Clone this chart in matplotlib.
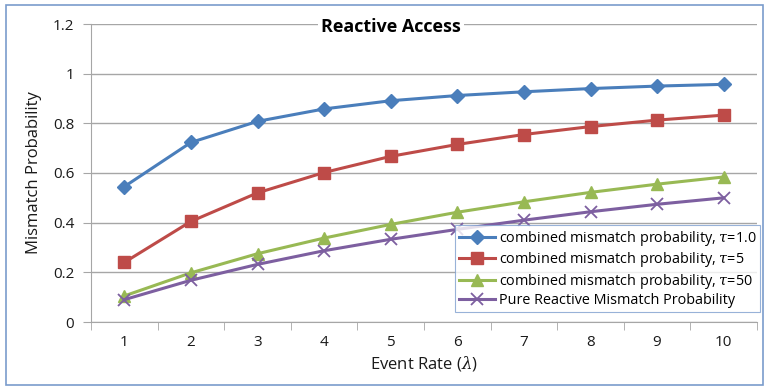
import numpy as np
import matplotlib
matplotlib.use("Agg")
import matplotlib.pyplot as plt
from matplotlib.patches import Rectangle

# data
event_rate = [1, 2, 3, 4, 5, 6, 7, 8, 9, 10]
tau_1 = [0.545, 0.723, 0.808, 0.858, 0.891, 0.912, 0.927, 0.940, 0.950, 0.957]
tau_5 = [0.240, 0.405, 0.520, 0.602, 0.667, 0.715, 0.755, 0.787, 0.813, 0.833]
tau_50 = [0.105, 0.198, 0.275, 0.338, 0.393, 0.442, 0.484, 0.522, 0.555, 0.584]
pure_reactive = [0.090, 0.168, 0.232, 0.287, 0.333, 0.373, 0.410, 0.444, 0.474, 0.500]
labels = [
    r"combined mismatch probability, $\tau$=1.0",
    r"combined mismatch probability, $\tau$=5",
    r"combined mismatch probability, $\tau$=50",
    "Pure Reactive Mismatch Probability",
]

BLUE = "#4a7ebb"
RED = "#be4b48"
GREEN = "#98b954"
PURPLE = "#7d5fa0"
GRID = "#a6a6a6"
TXT = "#1a1a1a"

plt.rcParams["font.family"] = ["Open Sans", "DejaVu Sans"]
plt.rcParams["mathtext.fontset"] = "dejavuserif"

fig = plt.figure(figsize=(7.68, 3.87), dpi=100)
ax = fig.add_axes([91 / 768, 1 - 322 / 387, 666 / 768, 298 / 387])

x = np.array(event_rate)
ax.plot(x, tau_1, color=BLUE, lw=2.2, marker="D", ms=7, label=labels[0])
ax.plot(x, tau_5, color=RED, lw=2.2, marker="s", ms=8, label=labels[1])
ax.plot(x, tau_50, color=GREEN, lw=2.2, marker="^", ms=9, label=labels[2])
ax.plot(x, pure_reactive, color=PURPLE, lw=2.2, marker="x", ms=9, mew=1.3, label=labels[3])

ax.set_xlim(0.5, 10.5)
ax.set_ylim(0, 1.2)
ax.set_yticks(np.arange(0, 1.21, 0.2))
ax.set_yticklabels(["0", "0.2", "0.4", "0.6", "0.8", "1", "1.2"])
ax.set_xticks(x)
ax.set_xticks(np.arange(0.5, 10.6, 1), minor=True)
ax.tick_params(axis="x", which="major", length=0, pad=9, labelsize=11, colors=TXT)
ax.tick_params(axis="x", which="minor", length=6, color=GRID, direction="out")
ax.tick_params(axis="y", length=6, color=GRID, labelsize=11, colors=TXT, pad=6)
ax.yaxis.grid(True, color=GRID, lw=1)
ax.set_axisbelow(True)
for s in ["top", "right"]:
    ax.spines[s].set_visible(False)
for s in ["left", "bottom"]:
    ax.spines[s].set_color(GRID)

ax.set_xlabel(r"Event Rate ($\lambda$)", fontsize=12, color=TXT, labelpad=3)
ax.set_ylabel("Mismatch Probability", fontsize=12, color=TXT, labelpad=8)

fig.text(391 / 768, 1 - 27 / 387, "Reactive Access", ha="center", va="center",
         fontsize=13, fontweight="bold", color="black",
         bbox=dict(facecolor="white", edgecolor="none", pad=2))

leg = fig.legend(loc="upper left", bbox_to_anchor=(455 / 768, 1 - 225 / 387),
                 fontsize=10.4, frameon=True, fancybox=False, handlelength=2.5,
                 handletextpad=0.3, borderpad=0.25, labelspacing=0.18,
                 borderaxespad=0)
leg.get_frame().set_edgecolor("#7f9fcf")
leg.get_frame().set_linewidth(0.8)

fig.patches.append(Rectangle((6 / 768, 2 / 387), 757 / 768, 380 / 387,
                             transform=fig.transFigure, fill=False,
                             edgecolor="#7a9ccc", lw=1.2))

fig.savefig("out.png", dpi=100)
